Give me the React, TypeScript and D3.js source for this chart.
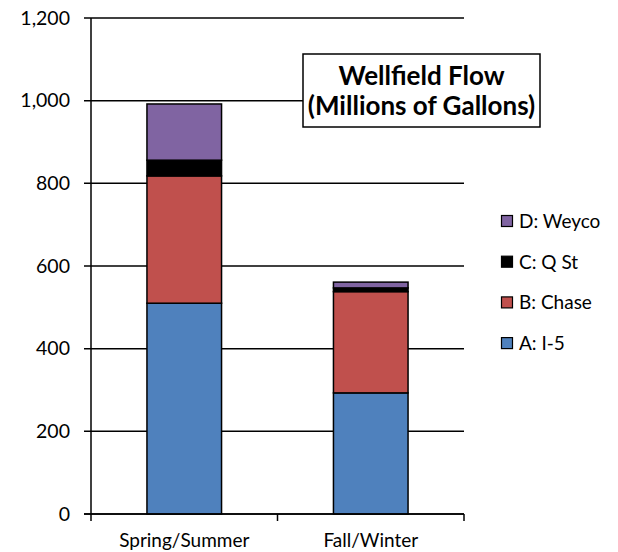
import React from "react";
import * as d3 from "d3";

// data
const categories = ["Spring/Summer", "Fall/Winter"];
const seriesNames = ["A: I-5", "B: Chase", "C: Q St", "D: Weyco"];
const seriesColors = ["#4F81BD", "#C0504D", "#000000", "#8064A2"];
const valuesA = [510, 293];
const valuesB = [308, 245];
const valuesC = [38, 9];
const valuesD = [136, 14];
const yTicks = [0, 200, 400, 600, 800, 1000, 1200];

const W = 618;
const H = 552;
const margin = { left: 91, right: 154, top: 18, bottom: 38 };
const font = "Lato, 'Open Sans', sans-serif";

export default function App() {
  const rows = categories.map((c, i) => ({
    cat: c,
    "A: I-5": valuesA[i],
    "B: Chase": valuesB[i],
    "C: Q St": valuesC[i],
    "D: Weyco": valuesD[i],
  }));
  const stacked = d3.stack<any>().keys(seriesNames)(rows);

  const x = d3
    .scaleBand()
    .domain(categories)
    .range([margin.left, W - margin.right])
    .paddingInner(0)
    .paddingOuter(0);
  const y = d3
    .scaleLinear()
    .domain([0, 1200])
    .range([H - margin.bottom, margin.top]);

  const barW = x.bandwidth() * 0.4;
  const fmt = d3.format(",");
  const x0 = margin.left;
  const x1 = W - margin.right;
  const yBase = y(0);

  return (
    <svg width={W} height={H} style={{ position: "absolute", left: 0, top: 0, background: "#fff" }}>
      {/* gridlines */}
      {yTicks.map((t) => (
        <line key={t} x1={x0 - 7} x2={x1} y1={y(t)} y2={y(t)} stroke="#000" strokeWidth={1.5} />
      ))}
      {/* y labels */}
      {yTicks.map((t) => (
        <text
          key={"l" + t}
          x={x0 - 21}
          y={y(t)}
          dy="0.35em"
          textAnchor="end"
          fontFamily={font}
          fontSize={19.5}
          fill="#000"
        >
          {fmt(t)}
        </text>
      ))}
      {/* title box */}
      <rect x={303} y={54} width={237} height={73} fill="#fff" stroke="#000" strokeWidth={1.5} />
      <text x={421.5} y={85} textAnchor="middle" fontFamily={font} fontWeight="bold" fontSize={26}>
        Wellfield Flow
      </text>
      <text x={421.5} y={115} textAnchor="middle" fontFamily={font} fontWeight="bold" fontSize={26}>
        (Millions of Gallons)
      </text>
      {/* bars */}
      {stacked.map((s, si) =>
        s.map((d, di) => {
          const cx = (x(categories[di]) as number) + x.bandwidth() / 2;
          return (
            <rect
              key={si + "-" + di}
              x={cx - barW / 2}
              y={y(d[1])}
              width={barW}
              height={y(d[0]) - y(d[1])}
              fill={seriesColors[si]}
              stroke="#000"
              strokeWidth={1.5}
            />
          );
        })
      )}
      {/* axes */}
      <line x1={x0} x2={x0} y1={y(1200)} y2={yBase} stroke="#000" strokeWidth={1.5} />
      <line x1={x0 - 7} x2={x1} y1={yBase} y2={yBase} stroke="#000" strokeWidth={1.5} />
      {[x0, x0 + x.bandwidth(), x1].map((tx, i) => (
        <line key={"xt" + i} x1={tx} x2={tx} y1={yBase} y2={yBase + 7} stroke="#000" strokeWidth={1.5} />
      ))}
      {categories.map((c) => (
        <text
          key={c}
          x={(x(c) as number) + x.bandwidth() / 2}
          y={yBase + 33}
          textAnchor="middle"
          fontFamily={font}
          fontSize={19}
          fill="#000"
        >
          {c}
        </text>
      ))}
      {/* legend, reversed order */}
      {seriesNames
        .map((n, i) => ({ n, c: seriesColors[i] }))
        .reverse()
        .map((e, i) => {
          const ly = 221 + i * 40.7;
          return (
            <g key={e.n}>
              <rect x={501.5} y={ly - 5.5} width={11} height={11} fill={e.c} stroke="#000" strokeWidth={1.2} />
              <text x={519} y={ly} dy="0.36em" fontFamily={font} fontSize={19} fill="#000">
                {e.n}
              </text>
            </g>
          );
        })}
    </svg>
  );
}
